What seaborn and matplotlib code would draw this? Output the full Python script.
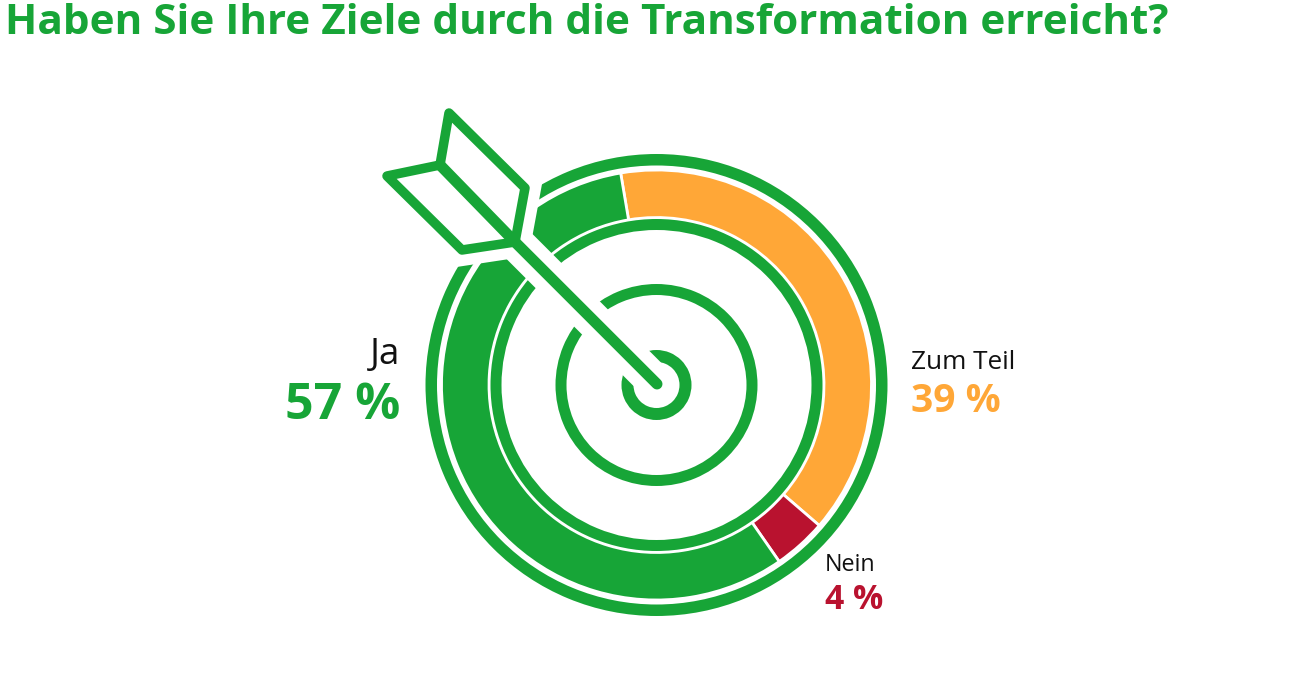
import matplotlib
matplotlib.use("Agg")
import matplotlib.pyplot as plt
from matplotlib.patches import Wedge, Polygon
import seaborn as sns

# Daten
labels = ["Zum Teil", "Nein", "Ja"]
values = [39, 4, 57]
value_labels = ["39 %", "4 %", "57 %"]
colors = ["#FFA737", "#B9122F", "#17A537"]

title = "Haben Sie Ihre Ziele durch die Transformation erreicht?"
green = "#17A537"

sns.set_theme(style="white")
plt.rcParams['font.family'] = ['Open Sans', 'DejaVu Sans']

W, H = 1300, 674
fig = plt.figure(figsize=(W / 100, H / 100), dpi=100)
ax = fig.add_axes([0, 0, 1, 1])
px = 0.72  # Pixel -> Punkt


def P(x, y):
    return (x, H - y)


cx, cy = P(656.5, 385)

# Ring mit den Ergebnissen
ax.pie(values, colors=sns.color_palette(colors), startangle=99.6, counterclock=False,
       center=(cx, cy), radius=215,
       wedgeprops=dict(width=47.5, edgecolor="white", linewidth=2))

# Zielscheibe
for r_out, w in [(231, 11.5), (166, 11), (101, 11), (35, 12)]:
    ax.add_patch(Wedge((cx, cy), r_out, 0, 360, width=w, color=green, lw=0, zorder=3))

# Pfeil
tip = P(657, 384)
joint = P(515, 242)
mid = P(440, 165)
fletch = [mid, P(449, 113), P(525, 188), joint, P(462, 250), P(387, 176)]

# weisser Abstand um den Pfeil
ax.plot(*zip(joint, tip), color="white", lw=36 * px, solid_capstyle="butt", zorder=4)
ax.add_patch(Polygon(fletch, closed=True, fc="white", ec="white", lw=32 * px,
                     joinstyle="miter", zorder=4))

for pts, lw in [([mid, P(449, 113), P(525, 188), joint], 9.5),
                ([mid, P(387, 176), P(462, 250), joint], 9.5),
                ([mid, joint, tip], 11)]:
    ax.plot(*zip(*pts), color=green, lw=lw * px, solid_capstyle="round",
            solid_joinstyle="round", zorder=5)

ax.set_xlim(0, W)
ax.set_ylim(0, H)
ax.set_aspect("equal")
ax.axis("off")

# Texte
ax.text(*P(5, 34.5), title, color=green, fontsize=30.4, fontweight="bold", ha="left", va="baseline")

ax.text(*P(400, 364), labels[2], color="#111111", fontsize=26.5, ha="right", va="baseline")
ax.text(*P(400, 419), value_labels[2], color=colors[2], fontsize=36, fontweight="bold",
        ha="right", va="baseline")

ax.text(*P(911, 369), labels[0], color="#111111", fontsize=18.8, ha="left", va="baseline")
ax.text(*P(911, 412), value_labels[0], color=colors[0], fontsize=28, fontweight="bold",
        ha="left", va="baseline")

ax.text(*P(825, 571), labels[1], color="#111111", fontsize=16.8, ha="left", va="baseline")
ax.text(*P(825, 609), value_labels[1], color=colors[1], fontsize=24.2, fontweight="bold",
        ha="left", va="baseline")

fig.savefig("out.png", dpi=100, facecolor="white")
